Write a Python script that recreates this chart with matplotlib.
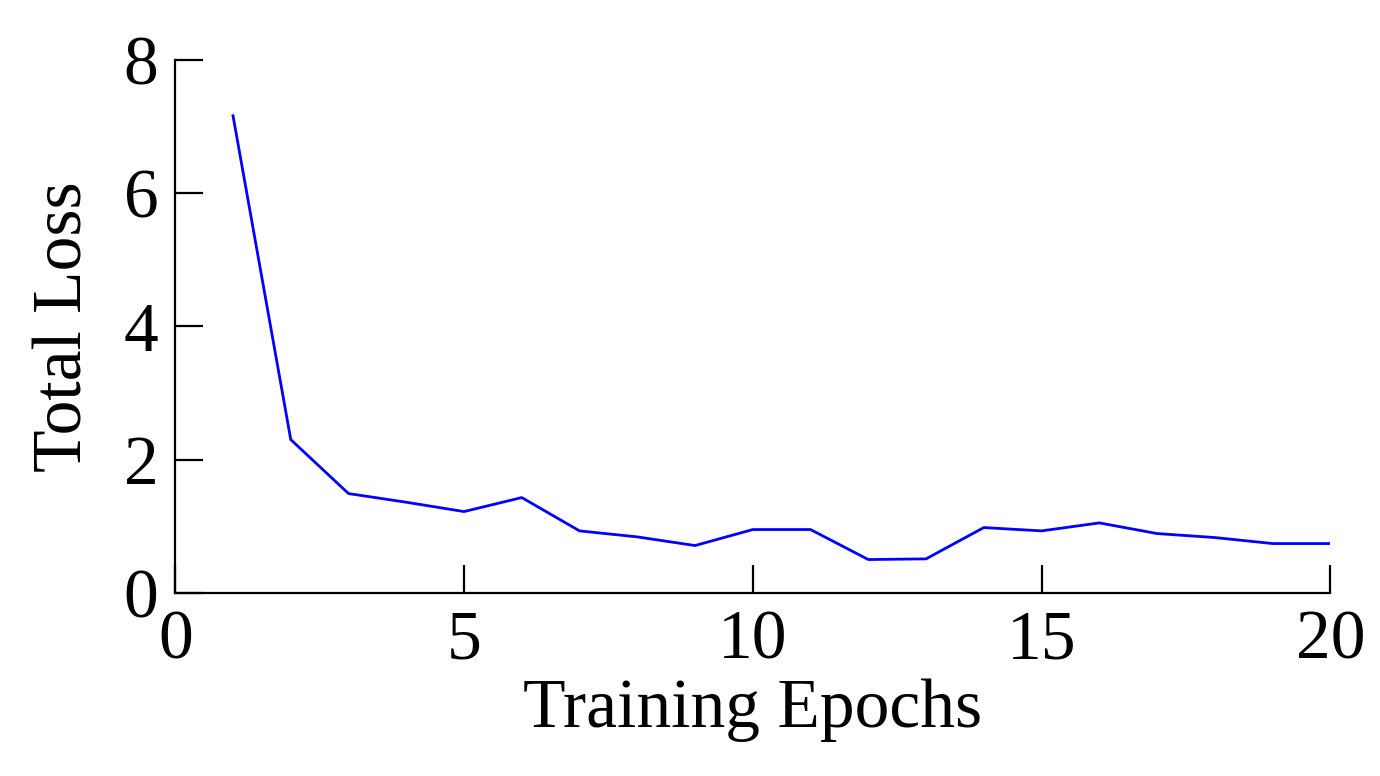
import matplotlib
matplotlib.use("Agg")
import matplotlib.pyplot as plt

epochs = list(range(1, 21))
loss = [7.16, 2.30, 1.49, 1.36, 1.22, 1.43, 0.93, 0.84, 0.71, 0.95,
        0.95, 0.50, 0.51, 0.98, 0.93, 1.05, 0.89, 0.83, 0.74, 0.74]

plt.rcParams["font.family"] = ["Liberation Serif", "DejaVu Serif"]

fig = plt.figure(figsize=(6.9, 3.88), dpi=200)
ax = fig.add_axes([0.127, 0.236, 0.837, 0.687])

ax.plot(epochs, loss, color="blue", linewidth=1.0)

ax.set_xlim(0, 20)
ax.set_ylim(0, 8)
ax.set_xticks([0, 5, 10, 15, 20])
ax.set_yticks([0, 2, 4, 6, 8])
ax.spines["top"].set_visible(False)
ax.spines["right"].set_visible(False)
for s in ("left", "bottom"):
    ax.spines[s].set_linewidth(0.8)
ax.tick_params(direction="in", length=10, width=0.8, labelsize=25, pad=6)

ax.set_xlabel("Training Epochs", fontsize=25, labelpad=2)
ax.set_ylabel("Total Loss", fontsize=25, labelpad=10)

fig.savefig("out.png", dpi=200)
